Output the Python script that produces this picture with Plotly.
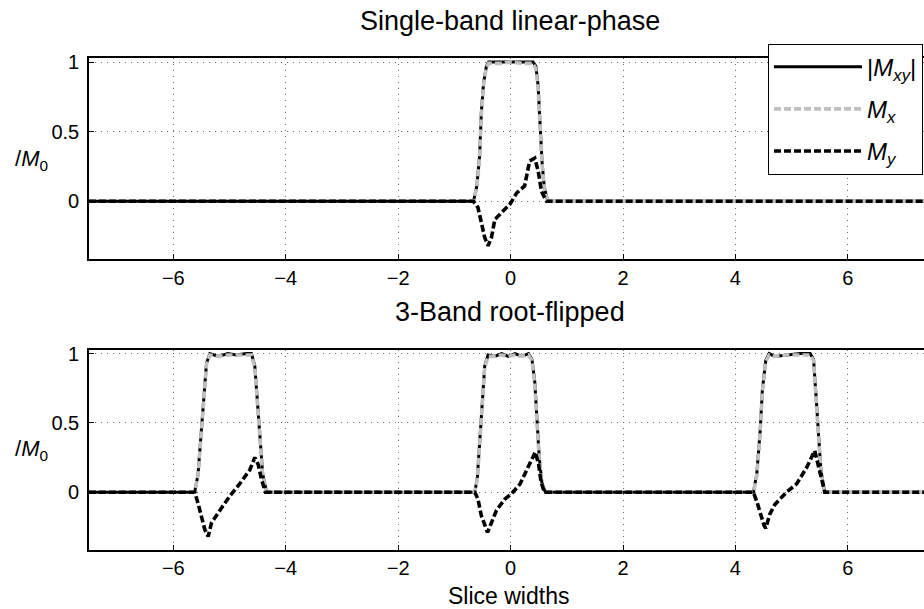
import plotly.graph_objects as go

# ---------------- data ----------------
# Top panel: single-band linear-phase
top_mxy_x = [-7.5, -0.66, -0.60, -0.55, -0.52, -0.48, -0.43, -0.39, -0.2, 0.0, 0.2, 0.40, 0.45, 0.49, 0.52, 0.56, 0.60, 0.66, 7.5]
top_mxy_y = [0.0, 0.0, 0.11, 0.33, 0.64, 0.85, 0.97, 1.0, 1.0, 1.0, 1.0, 1.0, 0.97, 0.83, 0.59, 0.28, 0.10, 0.0, 0.0]
top_mx_x = [-7.5, -0.66, -0.60, -0.55, -0.52, -0.48, -0.43, -0.39, -0.2, 0.0, 0.2, 0.40, 0.45, 0.49, 0.52, 0.56, 0.60, 0.66, 7.5]
top_mx_y = [0.0, 0.0, 0.10, 0.32, 0.62, 0.84, 0.96, 0.99, 0.99, 1.0, 0.99, 0.99, 0.95, 0.81, 0.58, 0.27, 0.09, 0.0, 0.0]
top_my_x = [-7.5, -0.66, -0.58, -0.52, -0.46, -0.40, -0.34, -0.28, -0.16, -0.01, 0.11, 0.25, 0.34, 0.43, 0.49, 0.55, 0.64, 7.5]
top_my_y = [0.0, 0.0, -0.045, -0.16, -0.26, -0.32, -0.26, -0.13, -0.08, -0.02, 0.06, 0.11, 0.29, 0.31, 0.22, 0.07, 0.0, 0.0]

# Bottom panel: 3-band root-flipped
bot_mxy_x = [-7.5,
             -5.62, -5.56, -5.50, -5.45, -5.41, -5.35, -5.20, -5.03, -4.88, -4.70, -4.61, -4.55, -4.51, -4.46, -4.41, -4.34,
             -0.635, -0.59, -0.55, -0.50, -0.46, -0.40, -0.28, -0.16, -0.04, 0.08, 0.20, 0.32, 0.38, 0.43, 0.47, 0.51, 0.56, 0.62,
             4.32, 4.38, 4.44, 4.48, 4.54, 4.60, 4.70, 4.91, 5.15, 5.33, 5.39, 5.43, 5.47, 5.52, 5.59,
             7.5]
bot_mxy_y = [0.0,
             0.0, 0.13, 0.44, 0.74, 0.93, 1.0, 0.98, 1.0, 0.99, 1.0, 1.0, 0.91, 0.67, 0.39, 0.13, 0.0,
             0.0, 0.11, 0.37, 0.67, 0.91, 0.99, 0.98, 1.0, 0.98, 1.0, 0.98, 1.0, 0.96, 0.80, 0.54, 0.25, 0.06, 0.0,
             0.0, 0.13, 0.44, 0.74, 0.95, 1.0, 0.98, 0.99, 1.0, 1.0, 0.96, 0.72, 0.44, 0.16, 0.0,
             0.0]
bot_mx_x = list(bot_mxy_x)
bot_mx_y = [0.0,
            0.0, 0.12, 0.43, 0.73, 0.92, 0.99, 0.98, 0.99, 0.99, 0.99, 0.99, 0.90, 0.66, 0.38, 0.12, 0.0,
            0.0, 0.10, 0.36, 0.66, 0.90, 0.98, 0.98, 0.99, 0.98, 0.99, 0.98, 0.99, 0.95, 0.78, 0.53, 0.24, 0.05, 0.0,
            0.0, 0.12, 0.43, 0.73, 0.94, 0.99, 0.98, 0.99, 0.99, 0.99, 0.95, 0.70, 0.43, 0.15, 0.0,
            0.0]
bot_my_x = [-7.5,
            -5.62, -5.56, -5.50, -5.44, -5.38, -5.32, -5.17, -5.00, -4.82, -4.64, -4.55, -4.49, -4.43, -4.36,
            -0.635, -0.58, -0.52, -0.46, -0.41, -0.34, -0.25, -0.10, 0.02, 0.17, 0.32, 0.44, 0.50, 0.54, 0.60,
            4.32, 4.39, 4.45, 4.51, 4.54, 4.61, 4.70, 4.91, 5.09, 5.27, 5.41, 5.47, 5.52, 5.59,
            7.5]
bot_my_y = [0.0,
            0.0, -0.08, -0.17, -0.27, -0.32, -0.22, -0.13, -0.03, 0.06, 0.16, 0.25, 0.20, 0.09, 0.0,
            0.0, -0.05, -0.17, -0.24, -0.29, -0.22, -0.13, -0.05, -0.01, 0.06, 0.18, 0.29, 0.20, 0.08, 0.0,
            0.0, -0.08, -0.17, -0.24, -0.26, -0.16, -0.09, 0.0, 0.06, 0.18, 0.30, 0.20, 0.09, 0.0,
            0.0]

x_ticks = [-6, -4, -2, 0, 2, 4, 6]
x_tick_labels = ["\u22126", "\u22124", "\u22122", "0", "2", "4", "6"]
y_ticks = [0, 0.5, 1]
y_tick_labels = ["0", "0.5", "1"]

names = ["|<i>M<sub>xy</sub></i>|", "<i>M<sub>x</sub></i>", "<i>M<sub>y</sub></i>"]

FONT = "Liberation Sans, Arial, Helvetica, sans-serif"
W, H = 924, 609

fig = go.Figure()

styles = [
    dict(color="black", width=3),
    dict(color="#c0c0c0", width=3.6, dash="7px,3px"),
    dict(color="black", width=3.6, dash="7px,3px"),
]

top_series = [(top_mxy_x, top_mxy_y), (top_mx_x, top_mx_y), (top_my_x, top_my_y)]
bot_series = [(bot_mxy_x, bot_mxy_y), (bot_mx_x, bot_mx_y), (bot_my_x, bot_my_y)]

for i, (xs, ys) in enumerate(top_series):
    fig.add_trace(go.Scatter(x=xs, y=ys, mode="lines", line=styles[i], name=names[i],
                             legendgroup="g%d" % i,
                             xaxis="x", yaxis="y", showlegend=True))
for i, (xs, ys) in enumerate(bot_series):
    fig.add_trace(go.Scatter(x=xs, y=ys, mode="lines", line=styles[i], name=names[i],
                             legendgroup="g%d" % i,
                             xaxis="x2", yaxis="y2", showlegend=False))

left = 89 / W
GRID = "#6a6a6a"
x_common = dict(range=[-7.5, 7.355], tickvals=x_ticks, ticktext=x_tick_labels,
                ticks="inside", ticklen=5, tickcolor="black", tickwidth=1,
                showline=True, linecolor="black", linewidth=1.6, mirror=True,
                showgrid=True, gridcolor=GRID, griddash="1px,5px", gridwidth=1,
                zeroline=False, tickfont=dict(family=FONT, size=20, color="black"),
                domain=[left, 1.0])
y_common = dict(range=[-0.415, 1.026], tickvals=y_ticks, ticktext=y_tick_labels,
                ticks="inside", ticklen=5, tickcolor="black", tickwidth=1,
                showline=True, linecolor="black", linewidth=1.6, mirror=False,
                showgrid=True, gridcolor=GRID, griddash="1px,5px", gridwidth=1,
                zeroline=False, tickfont=dict(family=FONT, size=20, color="black"),
                ticklabelstandoff=4)

fig.update_layout(
    width=W, height=H,
    margin=dict(l=0, r=0, t=0, b=0),
    paper_bgcolor="white", plot_bgcolor="white",
    font=dict(family=FONT, color="black"),
    xaxis=dict(anchor="y", **x_common),
    yaxis=dict(anchor="x", domain=[1 - 255 / H, 1 - 52 / H], **y_common),
    xaxis2=dict(anchor="y2", **x_common),
    yaxis2=dict(anchor="x2", domain=[1 - 549 / H, 1 - 347 / H], **y_common),
    legend=dict(x=923 / W, y=1 - 37 / H, xanchor="right", yanchor="top",
                bgcolor="white", bordercolor="black", borderwidth=1,
                font=dict(family=FONT, size=24, color="black"),
                itemwidth=88, traceorder="grouped", tracegroupgap=8),
    showlegend=True,
)

annotations = [
    dict(text="Single-band linear-phase", x=510 / W, y=1 - 14 / H, xref="paper", yref="paper",
         xanchor="center", yanchor="middle", showarrow=False, font=dict(size=27)),
    dict(text="3-Band root-flipped", x=510 / W, y=1 - 309 / H, xref="paper", yref="paper",
         xanchor="center", yanchor="middle", showarrow=False, font=dict(size=27)),
    dict(text="Slice widths", x=508 / W, y=1 - 596 / H, xref="paper", yref="paper",
         xanchor="center", yanchor="middle", showarrow=False, font=dict(size=23)),
    dict(text="/<i>M</i><sub>0</sub>", x=31 / W, y=1 - 155 / H, xref="paper", yref="paper",
         xanchor="center", yanchor="middle", showarrow=False, font=dict(size=22)),
    dict(text="/<i>M</i><sub>0</sub>", x=31 / W, y=1 - 448 / H, xref="paper", yref="paper",
         xanchor="center", yanchor="middle", showarrow=False, font=dict(size=22)),
]
fig.update_layout(annotations=annotations)

fig.write_html("out.html")
